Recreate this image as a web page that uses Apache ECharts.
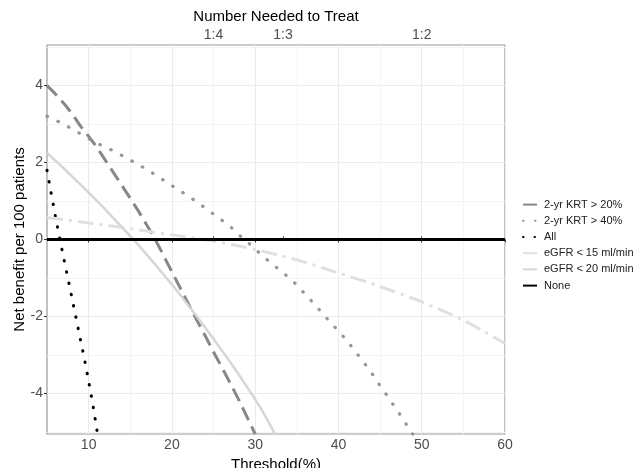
<!DOCTYPE html>
<html><head><meta charset="utf-8">
<script src="https://cdn.jsdelivr.net/npm/echarts@6/dist/echarts.min.js"></script>
<style>html,body{margin:0;padding:0;background:#fff}#c{width:634px;height:468px}</style>
</head><body><div id="c"></div>
<script>
// ---- data ----
const seriesNames = ['2-yr KRT > 20%', '2-yr KRT > 40%', 'All', 'eGFR < 15 ml/min', 'eGFR < 20 ml/min', 'None'];

const krt20X = [5,6,7,8,9,10,11,12,13,14,15,16,17,18,19,20,21,22,23,24,25,26,27,28,29,30];
const krt20Y = [4.0,3.78,3.54,3.27,2.95,2.68,2.39,2.06,1.73,1.40,1.07,0.73,0.37,0.0,-0.42,-0.84,-1.26,-1.68,-2.1,-2.5,-2.92,-3.32,-3.73,-4.15,-4.6,-5.05];

const krt40X = [5,6,7,8,9,10,11,12,13,14,15,16,17,18,19,20,21,22,23,24,25,26,27,28,29,30,31,32,33,34,35,36,37,38,39,40,41,42,43,44,45,46,47,48,49];
const krt40Y = [3.2,3.1,3.0,2.87,2.75,2.62,2.5,2.4,2.3,2.18,2.06,1.94,1.82,1.68,1.54,1.4,1.26,1.13,0.97,0.82,0.66,0.5,0.34,0.13,-0.05,-0.25,-0.45,-0.63,-0.8,-0.98,-1.18,-1.42,-1.65,-1.9,-2.14,-2.38,-2.62,-2.9,-3.18,-3.47,-3.8,-4.1,-4.42,-4.75,-5.08];

const allX = [5,5.5,6,6.5,7,7.5,8,8.5,9,9.5,10,10.5,11,11.5];
const allY = [1.8,1.2,0.62,0.06,-0.48,-1.0,-1.52,-2.05,-2.58,-3.1,-3.68,-4.28,-4.95,-5.6];

const egfr15X = [5,10,15,20,25,30,35,40,45,50,55,60];
const egfr15Y = [0.57,0.43,0.28,0.12,-0.04,-0.26,-0.53,-0.87,-1.22,-1.62,-2.1,-2.7];

const egfr20X = [5,6,7,8,9,10,11,12,13,14,15,16,17,18,19,20,21,22,23,24,25,26,27,28,29,30,31,32,33];
const egfr20Y = [2.25,2.05,1.85,1.64,1.43,1.22,1.0,0.78,0.55,0.32,0.09,-0.15,-0.4,-0.65,-0.91,-1.17,-1.44,-1.72,-2.0,-2.29,-2.58,-2.88,-3.18,-3.5,-3.82,-4.15,-4.5,-4.9,-5.3];

const noneX = [5,60];
const noneY = [0,0];

const xTicks = [10,20,30,40,50,60];
const xMinor = [15,25,35,45,55];
const yTicks = [-4,-2,0,2,4];
const yMinor = [-5,-3,-1,1,3,5];
const nntValues = [25, 100/3, 50];
const nntLabels = ['1:4','1:3','1:2'];

// ---- chart ----
const pairs = (xs, ys) => xs.map((x, i) => [x, ys[i]]);
const FONT = 'Liberation Sans, Arial, sans-serif';

const styles = [
  {color:'#878787', width:3, type:[14,7], cap:'butt'},
  {color:'#969696', width:3.2, type:[0.5,11.5], cap:'round'},
  {color:'#000000', width:3, type:[0.5,11], cap:'round'},
  {color:'#e0e0e0', width:3, type:[16,6,3,6], cap:'butt'},
  {color:'#d6d6d6', width:2.5, type:'solid', cap:'butt'},
  {color:'#000000', width:2.8, type:'solid', cap:'butt'}
];
const datas = [pairs(krt20X,krt20Y), pairs(krt40X,krt40Y), pairs(allX,allY), pairs(egfr15X,egfr15Y), pairs(egfr20X,egfr20Y), pairs(noneX,noneY)];

const series = seriesNames.map((n, i) => ({
  name: n, type: 'line', data: datas[i], symbol: 'none', showSymbol: false,
  smooth: i === 3 ? 0.3 : false, clip: true, animation: false,
  xAxisIndex: 0, yAxisIndex: 0,
  lineStyle: {color: styles[i].color, width: styles[i].width, type: styles[i].type, cap: styles[i].cap},
  itemStyle: {color: styles[i].color},
  z: 2 + i
}));

const chart = echarts.init(document.getElementById('c'), null, {renderer:'canvas'});
chart.setOption({
  animation: false,
  backgroundColor: '#ffffff',
  textStyle: {fontFamily: FONT},
  grid: {left: 47, top: 45, width: 458, height: 389, containLabel: false, outerBoundsMode: 'none',
         show: true, borderColor: '#9a9a9a', borderWidth: 1.2, backgroundColor: 'transparent'},
  legend: {
    orient: 'vertical', left: 517, top: 194, itemWidth: 14, itemHeight: 14, itemGap: 5,
    itemStyle: {opacity: 0},
    textStyle: {fontSize: 11, color: '#222', fontFamily: FONT, padding: [0,0,0,2]},
    data: seriesNames, selectedMode: false
  },
  xAxis: [
    {type:'value', position:'bottom', min:5, max:60,
     axisLine:{show:false},
     axisTick:{show:true, length:3, customValues:xTicks, lineStyle:{color:'#333'}},
     axisLabel:{customValues:xTicks, color:'#4d4d4d', fontSize:14, margin:4, fontFamily:FONT},
     splitLine:{show:true, lineStyle:{color:'#ebebeb', width:1}},
     name:'Threshold(%)', nameLocation:'middle', nameGap:20,
     nameTextStyle:{fontSize:15, color:'#000', fontFamily:FONT}},
    {type:'value', position:'top', min:5, max:60,
     axisLine:{show:false},
     axisTick:{show:true, length:3, customValues:nntValues, lineStyle:{color:'#333'}},
     axisLabel:{customValues:nntValues, color:'#4d4d4d', fontSize:14, margin:3, fontFamily:FONT,
       formatter: v => { const k = nntValues.findIndex(t => Math.abs(t - v) < 0.01); return k >= 0 ? nntLabels[k] : ''; }},
     splitLine:{show:false},
     name:'Number Needed to Treat', nameLocation:'middle', nameGap:21, nameMoveOverlap:false,
     nameTextStyle:{fontSize:15, color:'#000', fontFamily:FONT}},
    {type:'value', position:'bottom', min:5, max:60,
     axisLine:{show:false}, axisTick:{show:false, customValues:xMinor}, axisLabel:{show:false},
     splitLine:{show:true, lineStyle:{color:'#f4f4f4', width:1}}}
  ],
  yAxis: [
    {type:'value', position:'left', min:-5.05, max:5.05,
     axisLine:{show:false},
     axisTick:{show:true, length:3, customValues:yTicks, lineStyle:{color:'#333'}},
     axisLabel:{customValues:yTicks, color:'#4d4d4d', fontSize:14, margin:4, fontFamily:FONT},
     splitLine:{show:true, lineStyle:{color:'#ebebeb', width:1}},
     name:'Net benefit per 100 patients', nameLocation:'middle', nameGap:20, nameMoveOverlap:false,
     nameTextStyle:{fontSize:15, color:'#000', fontFamily:FONT}},
    {type:'value', position:'left', min:-5.05, max:5.05,
     axisLine:{show:false}, axisTick:{show:false, customValues:yMinor}, axisLabel:{show:false},
     splitLine:{show:true, lineStyle:{color:'#f4f4f4', width:1}}}
  ],
  series: series
});
</script></body></html>
